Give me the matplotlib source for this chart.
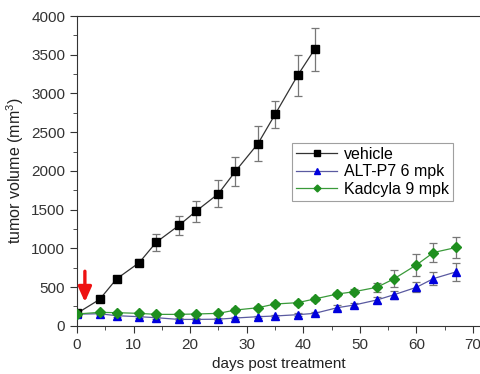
import numpy as np
import matplotlib.pyplot as plt
from matplotlib.ticker import MultipleLocator
from matplotlib.lines import Line2D

plt.rcParams['font.family'] = ['Liberation Sans', 'DejaVu Sans']
plt.rcParams['mathtext.fontset'] = 'custom'
plt.rcParams['mathtext.rm'] = 'Liberation Sans'

# vehicle group
veh_days = np.array([0, 4, 7, 11, 14, 18, 21, 25, 28, 32, 35, 39, 42])
veh_vol = np.array([160, 340, 605, 815, 1078, 1295, 1477, 1706, 1995, 2354, 2729, 3234, 3571])
veh_err = np.array([20, 25, 40, 45, 110, 125, 140, 175, 190, 230, 170, 265, 280])

# ALT-P7 6 mpk
alt_days = np.array([0, 4, 7, 11, 14, 18, 21, 25, 28, 32, 35, 39, 42, 46, 49, 53, 56, 60, 63, 67])
alt_vol = np.array([150, 155, 130, 117, 104, 82, 82, 85, 100, 117, 126, 143, 160, 233, 268, 333, 400, 497, 609, 696])
alt_err = np.array([15, 15, 15, 15, 12, 12, 12, 12, 15, 15, 15, 20, 20, 30, 30, 40, 55, 65, 80, 120])

# Kadcyla 9 mpk
kad_days = np.array([0, 4, 7, 11, 14, 18, 21, 25, 28, 32, 35, 39, 42, 46, 49, 53, 56, 60, 63, 67])
kad_vol = np.array([152, 173, 169, 160, 147, 147, 152, 160, 203, 233, 281, 298, 346, 410, 440, 497, 605, 786, 946, 1011])
kad_err = np.array([15, 15, 15, 15, 15, 15, 15, 15, 20, 20, 20, 25, 25, 30, 35, 60, 110, 140, 120, 130])

labels = ['vehicle', 'ALT-P7 6 mpk', 'Kadcyla 9 mpk']
line_colors = ['#333333', '#5a5aa0', '#3a9a3a']
mark_colors = ['black', '#0000dd', '#1f8f1f']
markers = ['s', '^', 'D']
msizes = [5.5, 6, 5]

fig = plt.figure(figsize=(4.81, 3.74), dpi=100)
ax = fig.add_axes([0.160, 0.129, 0.840, 0.828])

series = [(veh_days, veh_vol, veh_err), (alt_days, alt_vol, alt_err), (kad_days, kad_vol, kad_err)]
for i, (d, v, e) in enumerate(series):
    ax.errorbar(d, v, yerr=e, color=line_colors[i], lw=0.9,
                marker=markers[i], ms=msizes[i], mfc=mark_colors[i], mec=mark_colors[i],
                ecolor='#777777', elinewidth=0.9, capsize=3, capthick=0.9, zorder=3 + i)

# dosing arrow
ax.annotate('', xy=(1.4, 270), xytext=(1.4, 740),
            arrowprops=dict(arrowstyle='-|>,head_width=0.4,head_length=0.9',
                            color='#ee1111', lw=2.4))

ax.set_xlim(0, 71.4)
ax.set_ylim(0, 4000)
ax.xaxis.set_major_locator(MultipleLocator(10))
ax.xaxis.set_minor_locator(MultipleLocator(5))
ax.yaxis.set_major_locator(MultipleLocator(500))
ax.yaxis.set_minor_locator(MultipleLocator(250))
ax.tick_params(which='both', direction='out', colors='#333333', labelsize=11)
ax.tick_params(which='major', length=5)
ax.tick_params(which='minor', length=3)
for s in ax.spines.values():
    s.set_color('#333333')
ax.spines['right'].set_visible(False)

ax.set_xlabel('days post treatment', fontsize=11, color='#222222')
ax.set_ylabel('tumor volume (mm$^3$)', fontsize=11.5, color='#222222')

handles = [Line2D([], [], color=line_colors[i], lw=0.9, marker=markers[i], ms=msizes[i] - 1.5,
                  mfc=mark_colors[i], mec=mark_colors[i]) for i in range(3)]
leg = ax.legend(handles, labels, loc='upper left', bbox_to_anchor=(0.532, 0.590), fontsize=11.5,
                frameon=True, fancybox=False, edgecolor='#888888',
                handlelength=2.6, borderpad=0.25, labelspacing=0.15,
                handletextpad=0.4, borderaxespad=0)
leg.get_frame().set_linewidth(0.8)

fig.savefig('out.png', dpi=100)
